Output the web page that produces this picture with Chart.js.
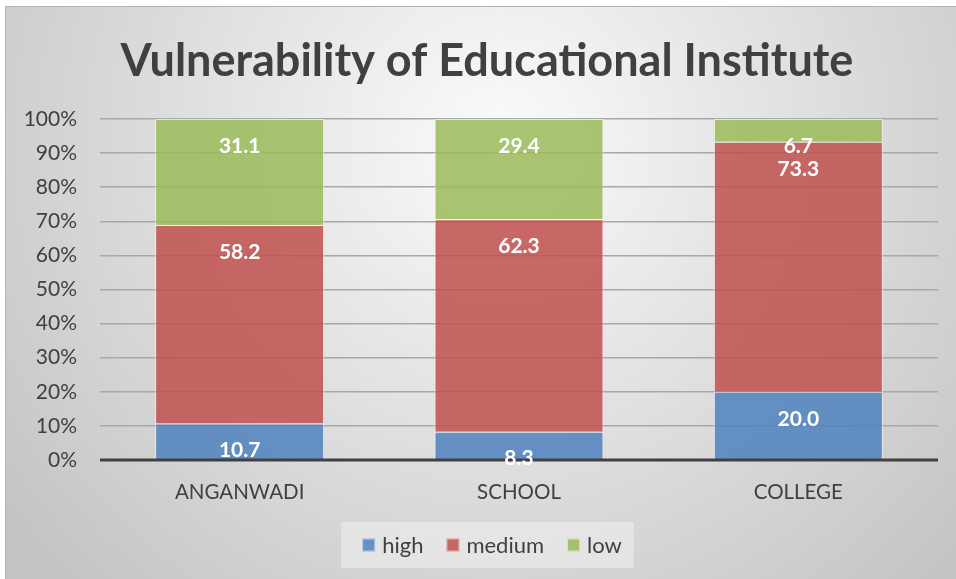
<!DOCTYPE html>
<html>
<head>
<meta charset="utf-8">
<script src="https://cdn.jsdelivr.net/npm/chart.js@4"></script>
<style>
    html, body { margin: 0; padding: 0; background: #ffffff; }
    #grafico { display: block; }
</style>
</head>
<body>
<canvas id="grafico" width="956" height="579"></canvas>
<script>
const categorias = ["ANGANWADI", "SCHOOL", "COLLEGE"];
const high = [10.7, 8.3, 20.0];
const medium = [58.2, 62.3, 73.3];
const low = [31.1, 29.4, 6.7];
const yTicks = [0, 10, 20, 30, 40, 50, 60, 70, 80, 90, 100];
const titulo = "Vulnerability of Educational Institute";

const fonte = "Lato, 'Open Sans', sans-serif";
const corTexto = "#404040";

// fundo com gradiente radial, borda, título e legenda
const fundoPlugin = {
    id: "fundo",
    beforeDraw(chart) {
        const ctx = chart.ctx;
        ctx.save();
        const g = ctx.createRadialGradient(500, 140, 0, 500, 140, 620);
        g.addColorStop(0, "#fbfbfb");
        g.addColorStop(0.45, "#e2e2e2");
        g.addColorStop(1, "#c4c4c4");
        ctx.fillStyle = g;
        ctx.fillRect(6, 7, chart.width - 6, chart.height - 7);
        ctx.strokeStyle = "#b4b4b4";
        ctx.lineWidth = 1;
        ctx.beginPath();
        ctx.moveTo(5.5, chart.height);
        ctx.lineTo(5.5, 6.5);
        ctx.lineTo(chart.width, 6.5);
        ctx.stroke();

        // título
        ctx.fillStyle = corTexto;
        ctx.font = "bold 45px " + fonte;
        ctx.textAlign = "center";
        ctx.textBaseline = "alphabetic";
        ctx.fillText(titulo, 487, 76);

        // legenda
        const itens = chart.data.datasets;
        ctx.font = "22px " + fonte;
        const quad = 13, gap1 = 7, gap2 = 23;
        const larguras = itens.map(d => quad + gap1 + ctx.measureText(d.label).width);
        const total = larguras.reduce((a, b) => a + b, 0) + gap2 * (itens.length - 1);
        let x = 492 - total / 2;
        const cy = 545;
        ctx.fillStyle = "rgba(240,240,240,0.55)";
        ctx.fillRect(x - 21, cy - 23, total + 33, 46);
        ctx.textAlign = "left";
        ctx.textBaseline = "middle";
        itens.forEach((d, i) => {
            ctx.fillStyle = d.backgroundColor;
            ctx.fillRect(x, cy - quad / 2, quad, quad);
            ctx.strokeStyle = d.borderColor;
            ctx.strokeRect(x + 0.5, cy - quad / 2 + 0.5, quad - 1, quad - 1);
            ctx.fillStyle = corTexto;
            ctx.fillText(d.label, x + quad + gap1, cy + 1);
            x += larguras[i] + gap2;
        });
        ctx.restore();
    }
};

// eixo 0% escuro desenhado por cima das barras
const eixoPlugin = {
    id: "eixo",
    afterDatasetsDraw(chart) {
        const ctx = chart.ctx;
        const y = chart.scales.y.getPixelForValue(0);
        ctx.save();
        ctx.strokeStyle = "#404040";
        ctx.lineWidth = 3;
        ctx.beginPath();
        ctx.moveTo(chart.chartArea.left, y);
        ctx.lineTo(chart.chartArea.right, y);
        ctx.stroke();
        ctx.restore();
    }
};

// rótulos brancos perto do topo de cada segmento
const rotulosPlugin = {
    id: "rotulos",
    afterDraw(chart) {
        const ctx = chart.ctx;
        ctx.save();
        ctx.fillStyle = "#ffffff";
        ctx.font = "bold 21px " + fonte;
        ctx.textAlign = "center";
        ctx.textBaseline = "middle";
        chart.data.datasets.forEach((ds, i) => {
            const meta = chart.getDatasetMeta(i);
            meta.data.forEach((bar, j) => {
                ctx.fillText(ds.data[j].toFixed(1), bar.x, bar.y + 27);
            });
        });
        ctx.restore();
    }
};

new Chart(document.getElementById("grafico"), {
    type: "bar",
    data: {
        labels: categorias,
        datasets: [
            {
                label: "high",
                data: high,
                backgroundColor: "rgba(79,129,189,0.85)",
                borderColor: "rgba(255,255,255,0.55)",
                borderWidth: 1
            },
            {
                label: "medium",
                data: medium,
                backgroundColor: "rgba(192,80,77,0.85)",
                borderColor: "rgba(255,255,255,0.55)",
                borderWidth: 1
            },
            {
                label: "low",
                data: low,
                backgroundColor: "rgba(155,187,89,0.85)",
                borderColor: "rgba(255,255,255,0.55)",
                borderWidth: 1
            }
        ]
    },
    options: {
        responsive: false,
        animation: false,
        layout: {
            padding: { left: 5, top: 119, right: 18, bottom: 66 }
        },
        datasets: {
            bar: { barPercentage: 0.605, categoryPercentage: 1 }
        },
        scales: {
            x: {
                stacked: true,
                afterFit: s => { s.height = 53; },
                grid: { display: false },
                border: { display: false },
                ticks: {
                    color: corTexto,
                    font: { family: fonte, size: 20.5 },
                    padding: 12
                }
            },
            y: {
                stacked: true,
                min: 0,
                max: 100,
                afterFit: s => { s.width = 95; },
                afterBuildTicks: s => { s.ticks = yTicks.map(v => ({ value: v })); },
                grid: {
                    color: "#a8a8a8",
                    lineWidth: 1.5,
                    drawTicks: false
                },
                border: { display: false },
                ticks: {
                    color: corTexto,
                    font: { family: fonte, size: 21 },
                    padding: 23,
                    callback: v => v + "%"
                }
            }
        },
        plugins: {
            title: { display: false },
            legend: { display: false },
            tooltip: { enabled: false }
        }
    },
    plugins: [fundoPlugin, eixoPlugin, rotulosPlugin]
});
</script>
</body>
</html>
